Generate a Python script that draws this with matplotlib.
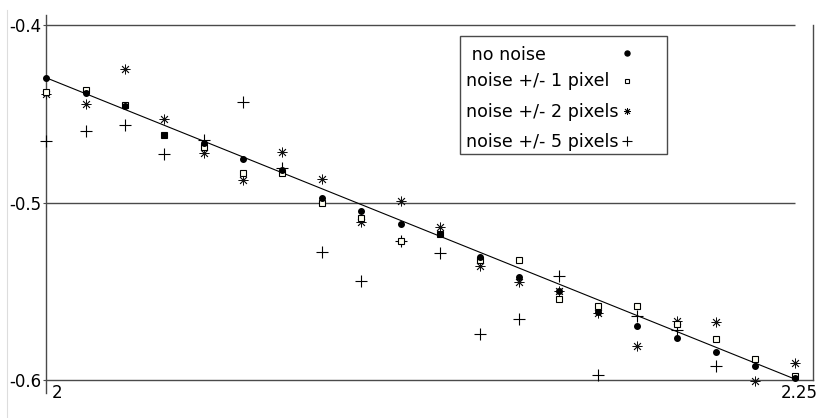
import numpy as np
import matplotlib
matplotlib.use("Agg")
import matplotlib.pyplot as plt
from matplotlib.transforms import ScaledTranslation
from matplotlib.lines import Line2D
from matplotlib.patches import Rectangle

# sample positions along x
x = [2.0, 2.0132, 2.0263, 2.0395, 2.0526, 2.0658, 2.0789, 2.0921, 2.1053, 2.1184,
     2.1316, 2.1447, 2.1579, 2.1711, 2.1842, 2.1974, 2.2105, 2.2237, 2.2368, 2.25]

no_noise = [-0.4297, -0.4385, -0.4454, -0.4618, -0.4663, -0.4753, -0.4817, -0.4976, -0.5046, -0.5121,
            -0.5175, -0.5305, -0.5421, -0.5497, -0.5615, -0.5696, -0.5761, -0.5844, -0.5921, -0.5987]
noise_1 = [-0.4379, -0.4366, -0.4451, -0.4618, -0.4689, -0.4835, -0.4835, -0.5005, -0.5089, -0.5217,
           -0.5175, -0.5324, -0.5324, -0.5544, -0.5583, -0.5583, -0.5686, -0.5767, -0.5883, -0.5976]
noise_2 = [-0.4390, -0.4447, -0.4248, -0.4531, -0.4723, -0.4873, -0.4717, -0.4868, -0.5112, -0.4992,
           -0.5136, -0.5356, -0.5446, -0.5499, -0.5623, -0.5808, -0.5666, -0.5675, -0.6006, -0.5904]
noise_5 = [-0.4652, -0.4597, -0.4565, -0.4727, -0.4648, -0.4432, -0.4807, -0.5281, -0.5441, -0.5217,
           -0.5285, -0.5741, -0.5656, -0.5414, -0.5972, -0.5637, -0.5721, -0.5921, np.nan, np.nan]

# straight line through the noiseless data
fit_x = [2.0, 2.25]
fit_y = [-0.4297, -0.5995]

labels = [" no noise", "noise +/- 1 pixel", "noise +/- 2 pixels", "noise +/- 5 pixels"]

plt.rcParams['font.family'] = ['DejaVu Sans']
plt.rcParams['font.size'] = 12

W, H = 827, 418
fig = plt.figure(figsize=(W/100, H/100), dpi=100)
ax = fig.add_axes([46/W, (H-380)/H, (813-46)/W, (380-15)/H])
ax.set_xlim(2.0, 2.256)
ax.set_ylim(-0.6, -0.4 + 10/1775)

def fpos(px, py):
    # pixel position (from top-left) -> figure fraction
    return px/W, 1 - py/H

gray = '#4a4a4a'
star = (8, 2, 0)
ax.hlines([-0.4, -0.5], 2.0, 2.25, color=gray, lw=1.0, zorder=1)
ax.plot(fit_x, fit_y, color='black', lw=0.8, zorder=2)

ax.plot(x, noise_5, ls='none', marker='+', ms=9, mew=0.8, color='black', zorder=3, clip_on=False)
ax.plot(x, noise_2, ls='none', marker=star, ms=7, mew=0.6, color='#111111', zorder=3, clip_on=False)
ax.plot(x, noise_1, ls='none', marker='s', ms=3.8, mew=0.8, mfc='#fffff2', mec='black', zorder=4, clip_on=False)
ax.plot(x, no_noise, ls='none', marker='o', ms=4.0, color='black', zorder=5, clip_on=False)

ax.spines['top'].set_visible(False)
for side in ['left', 'right', 'bottom']:
    ax.spines[side].set_color(gray)
    ax.spines[side].set_linewidth(1.0)
ax.spines['right'].set_bounds(-0.6, -0.4)
ax.spines['left'].set_bounds(-0.6 - 13/1775, -0.4 + 10/1775)

ax.set_yticks([-0.6, -0.5, -0.4])
ax.set_yticklabels(['-0.6', '-0.5', '-0.4'])
ax.tick_params(axis='y', length=2, pad=1, color=gray)
ax.set_xticks([2.0, 2.25])
ax.set_xticklabels(['2', '2.25'])
ax.tick_params(axis='x', length=0, pad=3)
for lab, dx in zip(ax.get_xticklabels(), [11, 4]):
    lab.set_transform(lab.get_transform() + ScaledTranslation(dx/100, 0, fig.dpi_scale_trans))

# legend box: labels on the left, symbols in a column on the right
x0, y0 = fpos(460, 36)
x1, y1 = fpos(667, 154)
fig.add_artist(Rectangle((x0, y1), x1 - x0, y0 - y1, transform=fig.transFigure,
                         fill=True, facecolor='white', edgecolor=gray, lw=1.0, zorder=6))
leg_styles = [
    dict(marker='o', ms=3.6, color='black'),
    dict(marker='s', ms=3.0, mfc='white', mec='black', mew=0.8),
    dict(marker=star, ms=5, mew=0.6, color='black'),
    dict(marker='+', ms=6.5, mew=0.8, color='black'),
]
base_y = [60, 86, 117, 147]
mark_y = [53, 81, 111, 141]
for lab, by, my, st in zip(labels, base_y, mark_y, leg_styles):
    tx, ty = fpos(466, by)
    fig.text(tx, ty, lab, ha='left', va='baseline', fontsize=12.6, zorder=7)
    mx, my_ = fpos(627, my)
    fig.add_artist(Line2D([mx], [my_], ls='none', transform=fig.transFigure, zorder=7, **st))

# faint rule along the left edge
fig.add_artist(Line2D([7/W, 7/W], [0, 1 - 10/H], color='#dddddd', lw=0.8))

fig.savefig('out.png', dpi=100)
